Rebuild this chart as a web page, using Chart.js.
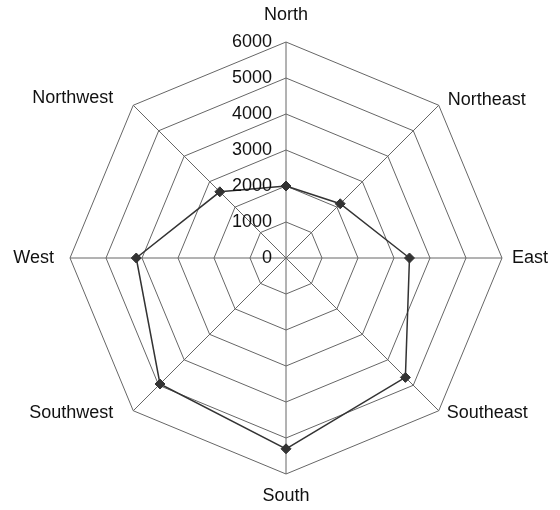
<!DOCTYPE html>
<html>
<head>
<meta charset="utf-8">
<script src="https://cdn.jsdelivr.net/npm/chart.js@4"></script>
<style>
  html, body { margin: 0; padding: 0; background: #fff; }
  #wrap { width: 560px; height: 510px; }
</style>
</head>
<body>
<div id="wrap"><canvas id="radar" width="560" height="510"></canvas></div>
<script>
// ─── DATA ──────────────────────────────────
const directions = ['North', 'Northeast', 'East', 'Southeast', 'South', 'Southwest', 'West', 'Northwest'];
const values = [2000, 2130, 3430, 4690, 5300, 4950, 4160, 2600];
const tickValues = [0, 1000, 2000, 3000, 4000, 5000, 6000];

const FONT = '18px "Liberation Sans", Arial, Helvetica, sans-serif';

// label placement relative to each axis end: [dx, dy, align]
const labelOffsets = [
  [0, -27, 'center'],
  [9, -5, 'left'],
  [10, 0, 'left'],
  [8, 2, 'left'],
  [0, 22, 'center'],
  [-20, 2, 'right'],
  [-16, 0, 'right'],
  [-20, -7, 'right'],
];

const labelsPlugin = {
  id: 'radarLabels',
  afterDatasetsDraw(chart) {
    const r = chart.scales.r;
    const ctx = chart.ctx;
    ctx.save();
    ctx.font = FONT;
    ctx.fillStyle = '#111';
    ctx.textBaseline = 'middle';

    // tick labels, right of nothing, left of the North axis
    ctx.textAlign = 'right';
    tickValues.forEach(v => {
      const d = r.getDistanceFromCenterForValue(v);
      ctx.fillText(String(v), r.xCenter - 14, r.yCenter - d);
    });

    // direction labels
    directions.forEach((lbl, i) => {
      const p = r.getPointPosition(i, r.drawingArea);
      const [dx, dy, align] = labelOffsets[i];
      ctx.textAlign = align;
      ctx.fillText(lbl, p.x + dx, p.y + dy);
    });
    ctx.restore();
  }
};

new Chart(document.getElementById('radar'), {
  type: 'radar',
  data: {
    labels: directions,
    datasets: [{
      data: values,
      borderColor: '#333',
      backgroundColor: 'transparent',
      borderWidth: 1.5,
      tension: 0,
      fill: false,
      pointStyle: 'rectRot',
      pointRadius: 5,
      pointBackgroundColor: '#333',
      pointBorderColor: '#333',
      pointBorderWidth: 1,
    }]
  },
  options: {
    responsive: false,
    animation: false,
    devicePixelRatio: 1,
    layout: { padding: { top: 42, bottom: 35, left: 62, right: 50 } },
    plugins: { legend: { display: false }, tooltip: { enabled: false } },
    scales: {
      r: {
        min: 0,
        max: 6000,
        ticks: { stepSize: 1000, display: false },
        grid: { color: '#666', lineWidth: 1 },
        angleLines: { color: '#666', lineWidth: 1 },
        pointLabels: { display: false },
      }
    }
  },
  plugins: [labelsPlugin]
});
</script>
</body>
</html>
